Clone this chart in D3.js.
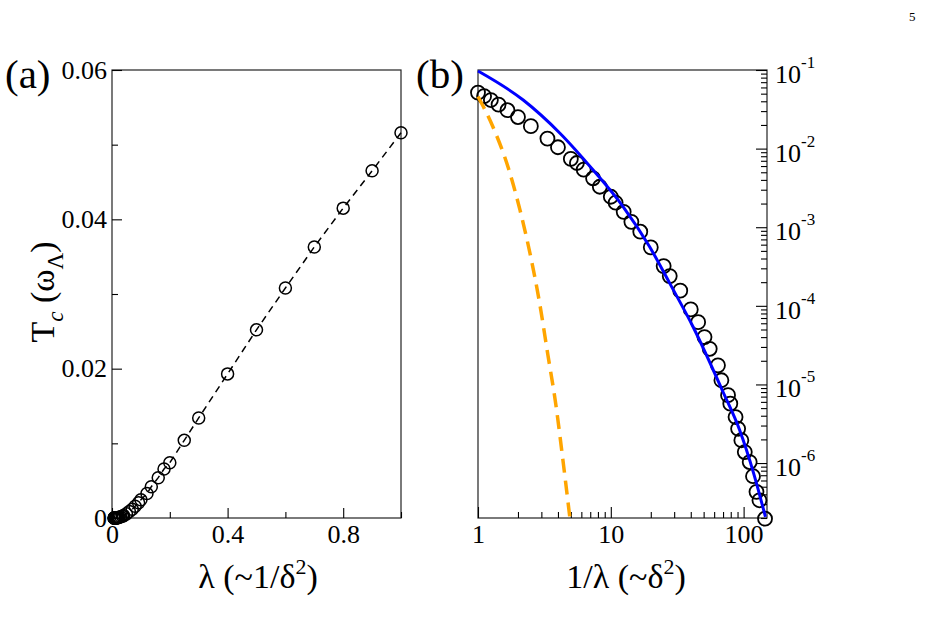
<!DOCTYPE html>
<html>
<head>
<meta charset="utf-8">
<script src="https://cdn.jsdelivr.net/npm/d3@7"></script>
<style>
  body { margin: 0; background: #fff; }
  svg { display: block; }
</style>
</head>
<body>
<svg id="chart" width="925" height="625"></svg>
<script>
// measured data: lambda and the critical temperature Tc (units of omega_Lambda)
const lambdaVals = [1, 0.9, 0.8, 0.7, 0.6, 0.5, 0.4, 0.3, 0.25, 0.2,
    0.18, 0.16, 0.136, 0.121, 0.1, 0.092, 0.08, 0.07, 0.06, 0.05,
    0.04, 0.036, 0.03, 0.025, 0.022, 0.0197, 0.018, 0.0156, 0.0147, 0.0131,
    0.0126, 0.0115, 0.011, 0.0104, 0.0098, 0.009, 0.0085, 0.008, 0.0076, 0.0069];
const tcVals = [0.0516, 0.0465, 0.0415, 0.0363, 0.0308, 0.0252, 0.0193, 0.0134, 0.0104, 0.0074,
    0.00656, 0.0054, 0.00419, 0.00327, 0.00244, 0.00205, 0.00157, 0.00117, 0.000877, 0.000555,
    0.00032, 0.000239, 0.000156, 9.0e-5, 6.2e-5, 4.0e-5, 2.84e-5, 1.75e-5, 1.13e-5, 7.3e-6,
    5.7e-6, 3.85e-6, 2.73e-6, 1.95e-6, 1.38e-6, 1.03e-6, 6.8e-7, 4.3e-7, 3.36e-7, 1.96e-7];

// blue solid curve (panel b), x = 1/lambda
const blueX = [1, 2.19, 4.14, 7.36, 12.4, 19.6, 27.8, 41.6, 69.9, 93.3, 119, 146];
const blueY = [0.097, 0.0415, 0.0157, 0.00534, 0.00182, 5.65e-4, 1.93e-4, 5.42e-5, 8.07e-6, 2.63e-6, 7.4e-7, 2.07e-7];

// orange dashed curve (panel b)
const orangeX = [1, 1.297, 1.69, 2.07, 2.46, 2.88, 3.36, 3.86, 4.36, 4.92];
const orangeY = [0.046, 0.0188, 0.0057, 0.00166, 4.7e-4, 1.2e-4, 2.37e-5, 5.47e-6, 1.09e-6, 2.0e-7];

// tick labels
const ticksAx = [0, 0.4, 0.8];
const ticksAy = [0, 0.02, 0.04, 0.06];
const ticksBx = [1, 10, 100];
const ticksBy = [-1, -2, -3, -4, -5, -6]; // exponents of 10

const serif = "'Liberation Serif', 'DejaVu Serif', 'Times New Roman', serif";
const svg = d3.select("#chart").style("font-family", serif);
const yTop = 70, yBot = 518;
const tickFont = 26;

const xa = d3.scaleLinear().domain([0, 1]).range([112, 401]);
const ya = d3.scaleLinear().domain([0, 0.06]).range([yBot, yTop]);
const xb = d3.scaleLog().domain([1, 150]).range([478, 767]);
const yb = d3.scaleLog().domain([2e-7, 0.1]).range([yBot, yTop]);

function styleAxis(g) {
    g.attr("font-family", serif).attr("font-size", tickFont);
    g.select(".domain").remove();
    g.selectAll("line").attr("stroke", "#000").attr("stroke-width", 1.1);
    g.selectAll("text").attr("fill", "#000").style("font-family", serif).style("font-size", tickFont + "px");
}

function addText(x, y, size) {
    return svg.append("text").attr("x", x).attr("y", y)
        .style("font-family", serif).style("font-size", size + "px").attr("fill", "#000");
}

// frames
function frame(x0, x1) {
    svg.append("rect")
        .attr("x", x0).attr("y", yTop)
        .attr("width", x1 - x0).attr("height", yBot - yTop)
        .attr("fill", "none").attr("stroke", "#222").attr("stroke-width", 1.2);
}
frame(112, 401);
frame(478, 767);

// ---------- panel (a) ----------
svg.append("g").attr("transform", `translate(0,${yBot})`)
    .call(d3.axisBottom(xa).tickValues([0.2, 0.6, 1.0]).tickSize(-6).tickFormat(""))
    .call(styleAxis);
svg.append("g").attr("transform", `translate(0,${yBot})`)
    .call(d3.axisBottom(xa).tickValues(ticksAx).tickSize(-10).tickPadding(7).tickFormat(d => d === 0 ? "0" : d3.format(".1f")(d)))
    .call(styleAxis);
svg.append("g").attr("transform", "translate(112,0)")
    .call(d3.axisLeft(ya).tickValues([0.01, 0.03, 0.05]).tickSize(-6).tickFormat(""))
    .call(styleAxis);
svg.append("g").attr("transform", "translate(112,0)")
    .call(d3.axisLeft(ya).tickValues(ticksAy).tickSize(-10).tickPadding(5).tickFormat(d => d === 0 ? "0" : d3.format(".2f")(d)))
    .call(styleAxis);

const ptsA = lambdaVals.map((l, i) => [l, tcVals[i]]);
svg.append("path")
    .datum(ptsA)
    .attr("fill", "none").attr("stroke", "#000").attr("stroke-width", 1.5)
    .attr("stroke-dasharray", "7,5")
    .attr("d", d3.line().x(d => xa(d[0])).y(d => ya(d[1])));
svg.append("g").selectAll("circle")
    .data(ptsA).enter().append("circle")
    .attr("cx", d => xa(d[0])).attr("cy", d => ya(d[1]))
    .attr("r", 6).attr("fill", "none").attr("stroke", "#000").attr("stroke-width", 1.5);

// ---------- panel (b) ----------
const minorX = [];
[1, 10, 100].forEach(b => { for (let k = 2; k <= 9; k++) if (b * k <= 150) minorX.push(b * k); });
svg.append("g").attr("transform", `translate(0,${yBot})`)
    .call(d3.axisBottom(xb).tickValues(minorX).tickSize(-6).tickFormat(""))
    .call(styleAxis);
svg.append("g").attr("transform", `translate(0,${yBot})`)
    .call(d3.axisBottom(xb).tickValues(ticksBx).tickSize(-11).tickPadding(7).tickFormat(d3.format("d")))
    .call(styleAxis);

const minorY = [];
for (let e = -7; e <= -2; e++) for (let k = 2; k <= 9; k++) {
    const v = k * Math.pow(10, e);
    if (v >= 2e-7 && v <= 0.1) minorY.push(v);
}
svg.append("g").attr("transform", "translate(767,0)")
    .call(d3.axisRight(yb).tickValues(minorY).tickSize(-6).tickFormat(""))
    .call(styleAxis);
svg.append("g").attr("transform", "translate(767,0)")
    .call(d3.axisRight(yb).tickValues(ticksBy.map(e => Math.pow(10, e))).tickSize(-11).tickFormat(""))
    .call(styleAxis);

ticksBy.forEach(e => {
    const t = addText(775, yb(Math.pow(10, e)) + 13, tickFont);
    t.append("tspan").text("10");
    t.append("tspan").attr("dy", -15).style("font-size", "17px").text(String(e));
});

const ptsB = lambdaVals.map((l, i) => [1 / l, tcVals[i]]);
svg.append("g").selectAll("circle")
    .data(ptsB).enter().append("circle")
    .attr("cx", d => xb(d[0])).attr("cy", d => yb(d[1]))
    .attr("r", 7).attr("fill", "none").attr("stroke", "#000").attr("stroke-width", 1.8);

const lineB = d3.line().x(d => xb(d[0])).y(d => yb(d[1])).curve(d3.curveMonotoneX);
svg.append("path")
    .datum(orangeX.map((x, i) => [x, orangeY[i]]))
    .attr("fill", "none").attr("stroke", "#ffa500").attr("stroke-width", 3.5)
    .attr("stroke-dasharray", "14,8")
    .attr("d", lineB);
svg.append("path")
    .datum(blueX.map((x, i) => [x, blueY[i]]))
    .attr("fill", "none").attr("stroke", "#0000ff").attr("stroke-width", 3)
    .attr("d", lineB);

// ---------- labels ----------
addText(5, 88, 41).text("(a)");
addText(416, 88, 41).text("(b)");
addText(909, 21, 13).text("5");

const xtA = addText(258, 588, 34).attr("text-anchor", "middle");
xtA.append("tspan").text("λ (~1/δ");
xtA.append("tspan").attr("dy", -14).style("font-size", "22px").text("2");
xtA.append("tspan").attr("dy", 14).text(")");

const xtB = addText(626, 588, 34).attr("text-anchor", "middle");
xtB.append("tspan").text("1/λ (~δ");
xtB.append("tspan").attr("dy", -14).style("font-size", "22px").text("2");
xtB.append("tspan").attr("dy", 14).text(")");

const yt = addText(0, 0, 34)
    .attr("transform", "translate(54,292) rotate(-90)")
    .attr("text-anchor", "middle");
yt.append("tspan").text("T");
yt.append("tspan").attr("dy", 9).style("font-size", "23px").style("font-style", "italic").text("c");
yt.append("tspan").attr("dy", -9).text(" (ω");
yt.append("tspan").attr("dy", 9).style("font-size", "23px").text("Λ");
yt.append("tspan").attr("dy", -9).text(")");
</script>
</body>
</html>
